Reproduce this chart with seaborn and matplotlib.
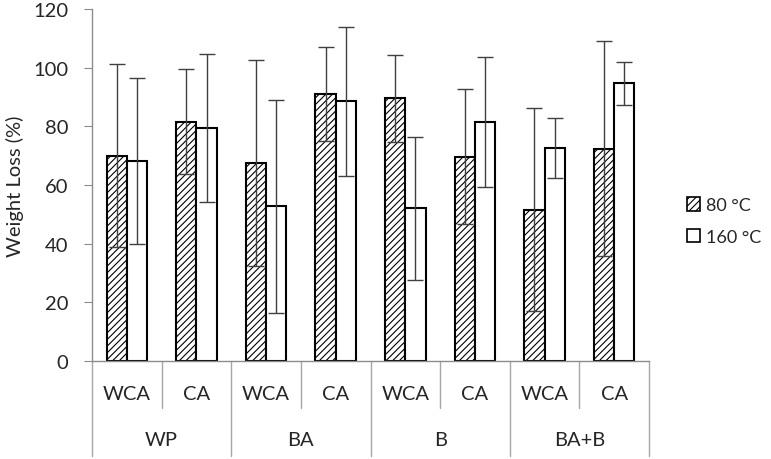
import pandas as pd
import seaborn as sns
import matplotlib.pyplot as plt
from matplotlib.patches import Patch

# values
groups = ['WP', 'BA', 'B', 'BA+B']
treatments = ['WCA', 'CA']
temps = ['80 °C', '160 °C']

loss_80 = [70.0, 81.6, 67.5, 91.1, 89.5, 69.7, 51.6, 72.4]
loss_160 = [68.2, 79.5, 52.7, 88.5, 52.0, 81.6, 72.6, 94.7]
err_80 = [31.2, 17.8, 35.2, 16.1, 14.9, 23.0, 34.5, 36.7]
err_160 = [28.2, 25.3, 36.4, 25.5, 24.5, 22.2, 10.2, 7.3]

# build long table
keys = [f'{g} {t}' for g in groups for t in treatments]
df = pd.DataFrame({
    'key': keys * 2,
    'temp': [temps[0]] * 8 + [temps[1]] * 8,
    'loss': loss_80 + loss_160,
    'err': err_80 + err_160,
})

sns.set_style('white')
plt.rcParams['font.family'] = ['Lato', 'DejaVu Sans']
plt.rcParams['hatch.linewidth'] = 0.8
plt.rcParams['hatch.color'] = 'black'
fs = 14.5

fig = plt.figure(figsize=(7.71, 4.6), dpi=100)
ax = fig.add_axes([92 / 771, 98 / 460, 557 / 771, 352 / 460])

sns.barplot(data=df, x='key', y='loss', hue='temp', order=keys, hue_order=temps,
            palette=['white', 'white'], width=0.58, gap=0, errorbar=None,
            edgecolor='black', linewidth=1.5, legend=False, ax=ax)

# hatch the 80 °C bars, then add error bars at each bar centre
bars = ax.patches
for i, p in enumerate(bars):
    if i < 8:
        p.set_hatch('/////')
for p, e in zip(bars, err_80 + err_160):
    xc = p.get_x() + p.get_width() / 2
    ax.errorbar(xc, p.get_height(), yerr=e, fmt='none', ecolor='#404040',
                elinewidth=1, capsize=5.5, capthick=1, zorder=5)

ax.set_ylim(0, 120)
ax.set_yticks(range(0, 121, 20))
ax.set_xlim(-0.5, 7.5)
ax.set_xticks([])
ax.set_xlabel('')
ax.set_ylabel('Weight Loss (%)', fontsize=fs, labelpad=7)
ax.tick_params(axis='y', labelsize=fs, length=6, color='#8c8c8c', left=True, pad=11)
for s in ['top', 'right']:
    ax.spines[s].set_visible(False)
for s in ['left', 'bottom']:
    ax.spines[s].set_color('#8c8c8c')
    ax.spines[s].set_linewidth(1)

# two-level category axis
tr = ax.get_xaxis_transform()
for k in range(9):
    x = k - 0.5
    low = -0.27 if k % 2 == 0 else -0.134
    ax.plot([x, x], [0, low], transform=tr, color='#a6a6a6', lw=1, clip_on=False)
for i, t in enumerate(treatments * len(groups)):
    ax.text(i, -0.091, t, transform=tr, ha='center', va='center', fontsize=fs)
for j, g in enumerate(groups):
    ax.text(2 * j + 0.5, -0.224, g, transform=tr, ha='center', va='center', fontsize=fs)

handles = [Patch(facecolor='white', edgecolor='black', hatch='/////', lw=1.2),
           Patch(facecolor='white', edgecolor='black', lw=1.2)]
fig.legend(handles, temps, loc='center left', bbox_to_anchor=(674 / 771, 1 - 222 / 460),
           frameon=False, fontsize=13, handlelength=0.75, handleheight=0.75,
           handletextpad=0.3, labelspacing=0.85, borderpad=0.2)

fig.savefig('out.png', dpi=100)
